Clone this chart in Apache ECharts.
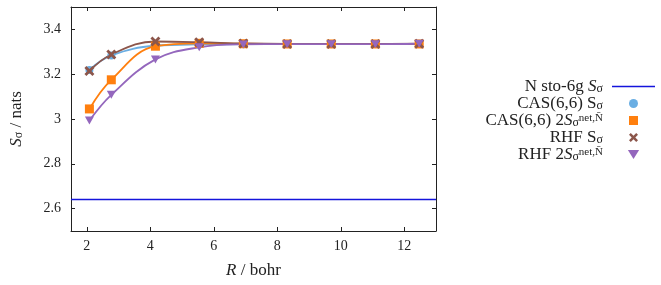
<!DOCTYPE html>
<html>
<head>
<meta charset="utf-8">
<script src="https://cdn.jsdelivr.net/npm/echarts@6/dist/echarts.min.js"></script>
<style>
  html, body { margin: 0; padding: 0; background: #fff; }
  #chart { width: 661px; height: 285px; }
</style>
</head>
<body>
<div id="chart"></div>
<script>
// 数据
var rBohr = [2.08, 2.77, 4.16, 5.54, 6.93, 8.31, 9.70, 11.09, 12.47];
var casS = [3.219, 3.284, 3.327, 3.333, 3.334, 3.335, 3.335, 3.335, 3.335];
var cas2S = [3.045, 3.175, 3.325, 3.338, 3.336, 3.335, 3.335, 3.335, 3.335];
var rhfS = [3.214, 3.288, 3.346, 3.343, 3.337, 3.335, 3.335, 3.335, 3.336];
var rhf2S = [2.993, 3.108, 3.266, 3.320, 3.333, 3.334, 3.334, 3.334, 3.336];
var nSto6g = 2.644;

var xTicks = [2, 4, 6, 8, 10, 12];
var yTicks = [2.6, 2.8, 3.0, 3.2, 3.4];

var FONT = 'Liberation Serif';

function pairs(xs, ys) {
    var out = [];
    for (var i = 0; i < xs.length; i++) {
        out.push([xs[i], ys[i]]);
    }
    return out;
}

var legendText = {
    'nsto': 'N sto-6g {i|S}{sub|σ}',
    'casS': 'CAS(6,6) S{sub|σ}',
    'cas2S': 'CAS(6,6) 2{i|S}{sub|σ}{sup|net,N̄}',
    'rhfS': 'RHF S{sub|σ}',
    'rhf2S': 'RHF 2{i|S}{sub|σ}{sup|net,N̄}'
};

function makeRich(size) {
    return {
        i: {fontFamily: FONT, fontStyle: 'italic', fontSize: size, color: '#222', lineHeight: 16},
        sub: {fontFamily: FONT, fontSize: Math.round(size * 0.7), color: '#222', lineHeight: 12, verticalAlign: 'bottom', padding: [3, 0, 0, 0]},
        sup: {fontFamily: FONT, fontSize: Math.round(size * 0.62), color: '#222', lineHeight: 11, verticalAlign: 'top', padding: [0, 0, 4, 0]}
    };
}

var blue = '#1414dc';
var xMarkPath = 'path://M2,0 L5,3 L8,0 L10,2 L7,5 L10,8 L8,10 L5,7 L2,10 L0,8 L3,5 L0,2 Z';
var triDownPath = 'path://M0,0 L10,0 L5,8 Z';
var squarePath = 'path://M0,0 L10,0 L10,10 L0,10 Z';
var lineIconPath = 'path://M0,0 L43,0 L43,1.6 L0,1.6 Z';

function axisCommon() {
    return {
        axisLine: {show: true, lineStyle: {color: '#222', width: 1}},
        splitLine: {show: false}
    };
}

var option = {
    animation: false,
    backgroundColor: '#fff',
    textStyle: {fontFamily: FONT},
    grid: {left: 68, right: 225, top: 7, bottom: 54, containLabel: false},
    legend: {
        orient: 'vertical',
        right: 6,
        top: 78,
        padding: 0,
        align: 'right',
        itemWidth: 43,
        itemHeight: 9,
        itemGap: 0,
        data: [
            {name: 'nsto', icon: lineIconPath, itemStyle: {color: blue}},
            {name: 'casS', icon: 'circle'},
            {name: 'cas2S', icon: squarePath},
            {name: 'rhfS', icon: xMarkPath},
            {name: 'rhf2S', icon: triDownPath}
        ],
        formatter: function (name) { return legendText[name]; },
        textStyle: {fontFamily: FONT, fontSize: 17, color: '#222', lineHeight: 16, padding: [0, 4, 0, 0], rich: makeRich(17)}
    },
    xAxis: [
        Object.assign(axisCommon(), {
            type: 'value', position: 'bottom', min: 1.5, max: 13,
            axisTick: {show: true, inside: true, length: 4, customValues: xTicks, lineStyle: {color: '#222'}},
            axisLabel: {customValues: xTicks, fontFamily: FONT, fontSize: 14, color: '#222', margin: 8},
            name: '{i|R} / bohr',
            nameLocation: 'middle',
            nameGap: 31,
            nameTextStyle: {fontFamily: FONT, fontSize: 17, color: '#222', rich: makeRich(17)}
        }),
        Object.assign(axisCommon(), {
            type: 'value', position: 'top', min: 1.5, max: 13,
            axisTick: {show: true, inside: true, length: 4, customValues: xTicks, lineStyle: {color: '#222'}},
            axisLabel: {show: false}
        })
    ],
    yAxis: [
        Object.assign(axisCommon(), {
            type: 'value', position: 'left', min: 2.5, max: 3.5,
            axisTick: {show: true, inside: true, length: 4, customValues: yTicks, lineStyle: {color: '#222'}},
            axisLabel: {
                customValues: yTicks, fontFamily: FONT, fontSize: 14, color: '#222', margin: 10,
                formatter: function (v) { return String(Math.round(v * 10) / 10); }
            },
            name: '{i|S}{sub|σ} / nats',
            nameLocation: 'middle',
            nameRotate: 90,
            nameGap: 46,
            nameTextStyle: {fontFamily: FONT, fontSize: 17, color: '#222', rich: makeRich(17)}
        }),
        Object.assign(axisCommon(), {
            type: 'value', position: 'right', min: 2.5, max: 3.5,
            axisTick: {show: true, inside: true, length: 4, customValues: yTicks, lineStyle: {color: '#222'}},
            axisLabel: {show: false}
        })
    ],
    series: [
        {
            name: 'nsto',
            type: 'line',
            data: [],
            color: blue,
            symbol: 'none',
            lineStyle: {color: blue, width: 1.3},
            markLine: {
                silent: true,
                symbol: 'none',
                label: {show: false},
                lineStyle: {color: blue, width: 1.3, type: 'solid'},
                data: [{yAxis: nSto6g}]
            }
        },
        {
            name: 'casS',
            type: 'line',
            data: pairs(rBohr, casS),
            smooth: 0.4,
            color: '#6aaee3',
            symbol: 'circle',
            symbolSize: 8,
            lineStyle: {color: '#6aaee3', width: 1.8},
            itemStyle: {color: '#6aaee3'}
        },
        {
            name: 'cas2S',
            type: 'line',
            data: pairs(rBohr, cas2S),
            smooth: 0.4,
            color: '#ff7f0e',
            symbol: squarePath,
            symbolSize: 9,
            lineStyle: {color: '#ff7f0e', width: 1.8},
            itemStyle: {color: '#ff7f0e'}
        },
        {
            name: 'rhfS',
            type: 'line',
            data: pairs(rBohr, rhfS),
            smooth: 0.4,
            color: '#8c564b',
            symbol: xMarkPath,
            symbolSize: 10,
            lineStyle: {color: '#8c564b', width: 1.8},
            itemStyle: {color: '#8c564b'}
        },
        {
            name: 'rhf2S',
            type: 'line',
            data: pairs(rBohr, rhf2S),
            smooth: 0.4,
            color: '#9467bd',
            symbol: triDownPath,
            symbolSize: [9, 8],
            lineStyle: {color: '#9467bd', width: 1.8},
            itemStyle: {color: '#9467bd'}
        }
    ]
};

var myChart = echarts.init(document.getElementById('chart'), null, {renderer: 'canvas'});
myChart.setOption(option);
</script>
</body>
</html>
